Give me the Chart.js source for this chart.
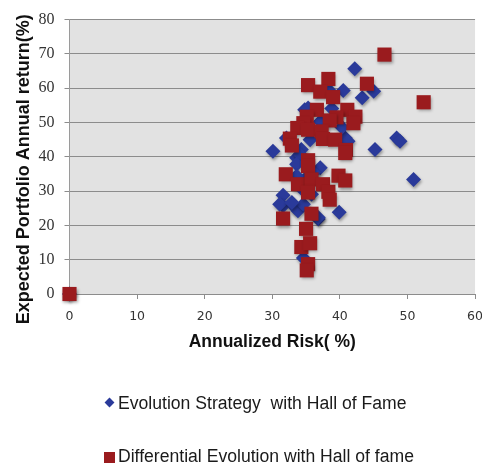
<!DOCTYPE html>
<html>
<head>
<meta charset="utf-8">
<script src="https://cdn.jsdelivr.net/npm/chart.js@4"></script>
<style>
html,body{margin:0;padding:0;background:#fff;}
#wrap{position:relative;width:482px;height:463px;overflow:hidden;}
#wrap canvas{position:absolute;left:0;top:0;}
.leg{position:absolute;left:104px;font-family:"Liberation Sans",Arial,sans-serif;font-size:17.6px;color:#1a1a1a;white-space:pre;}
.dia{display:inline-block;width:7px;height:7px;background:#2a3a9a;transform:rotate(45deg);margin:0 5px 3px 2px;}
.sq{display:inline-block;width:11px;height:11px;background:#9a1b1e;margin-right:3px;vertical-align:-1px;}
</style>
</head>
<body>
<div id="wrap">
<canvas id="grafico" width="493" height="463"></canvas>
<div class="leg" style="top:393px"><span class="dia"></span>Evolution Strategy  with Hall of Fame</div>
<div class="leg" style="top:446px"><span class="sq"></span>Differential Evolution with Hall of fame</div>
</div>
<script>
// values (risk %, return %)
const esRisk = [0,42.2,40.5,45.0,43.3,38.5,48.4,48.9,45.2,50.9,30.1,39.9,36.8,31.6,31.6,33.4,33.8,35.8,34.4,33.6,34.3,35.6,40.8,41.2,40.3,37.1,34.8,38.8,32.1,34.8,37.1,34.1,33.6,31.1,34.6,34.6,36.8,35.3,32.9,33.6,36.1];
const esReturn = [0,65.7,59.3,59.1,57.2,59.2,45.5,44.5,42.1,33.4,41.6,23.8,21.9,28.8,25.7,25.2,24.3,29.1,30.6,39.7,42.1,45.0,45.5,44.5,48.6,50.3,53.7,54.1,45.5,33.4,36.8,40.7,37.8,26.2,26.2,10.5,22.3,54.2,26.7,34.4,35.4];

const deRisk = [0,46.6,44.0,52.4,38.3,35.3,37.1,39.0,36.6,41.1,42.3,42.0,39.5,38.5,35.1,34.6,33.7,35.3,37.3,32.6,32.9,37.5,39.3,40.9,35.3,35.3,32.0,33.8,35.8,35.3,37.5,38.3,38.5,39.8,40.8,31.6,35.8,35.0,34.3,35.6,35.3,35.1,40.8];
const deReturn = [0,69.8,61.3,55.9,62.7,60.9,59.0,57.4,53.7,53.7,51.7,49.8,51.5,50.6,51.7,49.8,48.4,47.9,47.4,45.3,43.3,45.2,45.0,42.0,39.0,37.3,34.9,32.0,33.4,29.6,32.0,29.8,27.5,34.5,33.1,22.0,23.4,19.0,13.7,14.8,8.7,6.9,41.1];

const xTicks = [0,10,20,30,40,50,60];
const yTicks = [0,10,20,30,40,50,60,70,80];

function pontos(xs, ys){
  return xs.map((x,i) => ({x:x, y:ys[i]}));
}

// gray plot area
const fundo = {
  id:'fundo',
  beforeDraw(chart){
    const a = chart.chartArea, ctx = chart.ctx;
    ctx.save();
    ctx.fillStyle = '#e2e2e2';
    ctx.fillRect(a.left, a.top, a.right - a.left, a.bottom - a.top);
    ctx.restore();
  }
};

// soft drop shadow under the markers
const sombra = {
  id:'sombra',
  beforeDatasetsDraw(chart){
    const ctx = chart.ctx;
    ctx.save();
    ctx.shadowColor = 'rgba(0,0,0,0.35)';
    ctx.shadowBlur = 3;
    ctx.shadowOffsetX = 1;
    ctx.shadowOffsetY = 2;
  },
  afterDatasetsDraw(chart){
    chart.ctx.restore();
  }
};

const ctx = document.getElementById('grafico');

new Chart(ctx, {
  type:'scatter',
  data:{
    datasets:[{
      label:'Evolution Strategy  with Hall of Fame',
      data:pontos(esRisk, esReturn),
      pointStyle:'rectRot',
      pointRadius:7.5,
      pointHoverRadius:7.5,
      backgroundColor:'#2a3a9a',
      borderColor:'#2a3a9a',
      borderWidth:0,
      clip:false,
      order:1
    },{
      label:'Differential Evolution with Hall of fame',
      data:pontos(deRisk, deReturn),
      pointStyle:'rect',
      pointRadius:10,
      pointHoverRadius:10,
      backgroundColor:'#9a1b1e',
      borderColor:'#9a1b1e',
      borderWidth:0,
      clip:false,
      order:0
    }]
  },
  options:{
    responsive:false,
    animation:false,
    layout:{padding:{top:17, right:0, bottom:109, left:0}},
    plugins:{legend:{display:false}, tooltip:{enabled:false}},
    scales:{
      x:{
        type:'linear', min:0, max:60,
        afterBuildTicks: s => { s.ticks = xTicks.map(v => ({value:v})); },
        afterFit: s => { s.height = 60; },
        grid:{drawOnChartArea:false, color:'#8c8c8c', tickLength:5},
        border:{color:'#8c8c8c'},
        ticks:{padding:10, color:'#333', font:{family:'DejaVu Sans', size:12.5}},
        title:{display:true, text:'Annualized Risk( %)', color:'#111',
          padding:{top:0, bottom:1}, font:{family:'Liberation Sans', size:17.5, weight:'bold'}}
      },
      y:{
        type:'linear', min:0, max:80,
        afterBuildTicks: s => { s.ticks = yTicks.map(v => ({value:v})); },
        afterFit: s => { s.width = 69.5; },
        grid:{color:'#8c8c8c', tickLength:5},
        border:{color:'#9a9a9a'},
        ticks:{padding:10, color:'#333', font:{family:'Liberation Serif', size:16}},
        title:{display:true, text:'Expected Portfolio Annual return(%)     ', color:'#111',
          padding:{top:13, bottom:0}, font:{family:'Liberation Sans', size:18, weight:'bold'}}
      }
    }
  },
  plugins:[fundo, sombra]
});
</script>
</body>
</html>
